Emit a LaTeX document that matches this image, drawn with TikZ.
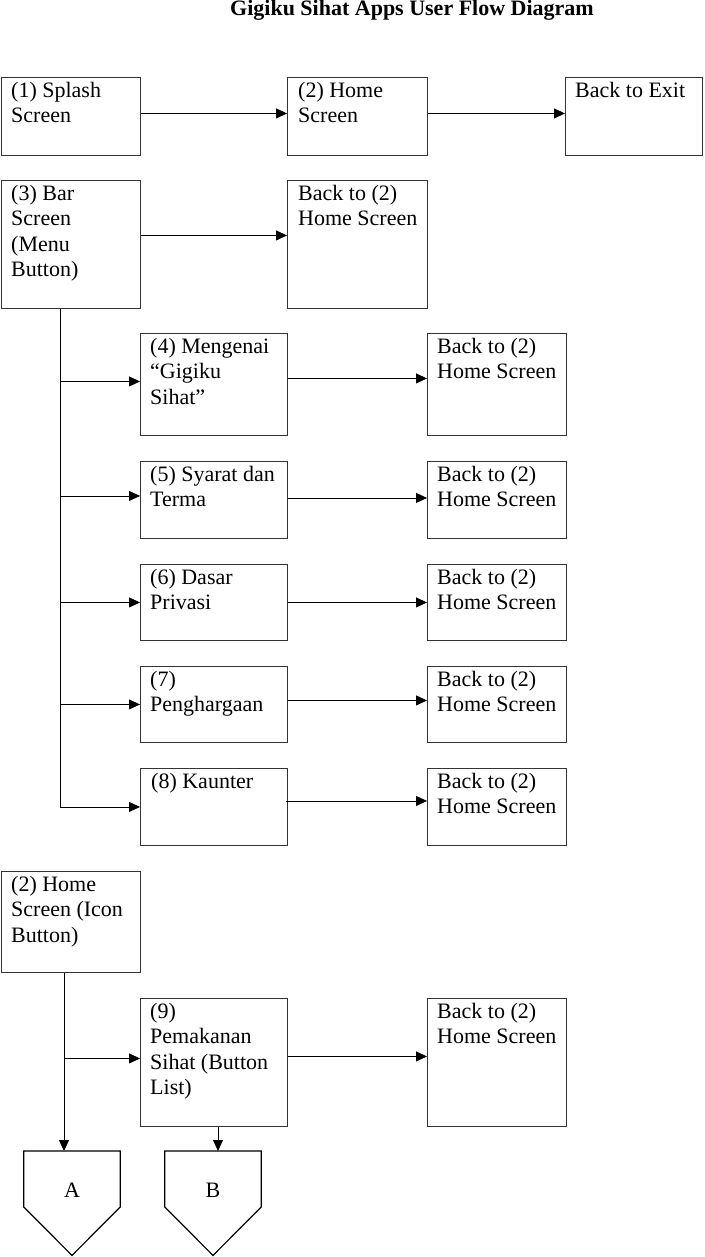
\documentclass[tikz,border=0pt]{standalone}
\usepackage{fontspec}
\setmainfont{Liberation Serif}
\usetikzlibrary{arrows.meta,calc}

\tikzset{
  screen/.style={draw=black!80,line width=0.9pt,anchor=north west,inner sep=0pt},
  txt/.style={anchor=north west,inner sep=0pt,align=left,font=\fontsize{22}{25.3}\selectfont},
  flow/.style={-{Triangle[length=11pt,width=10pt]},line width=0.8pt},
  tag/.style={draw,line width=1.2pt,line join=miter},
  tagbox/.style={minimum width=96pt,minimum height=104pt,inner sep=0pt,anchor=north}
}

\begin{document}
\begin{tikzpicture}[x=1pt,y=-1pt]
  \useasboundingbox (0,0) rectangle (704,1257);
  \node[anchor=base,font=\fontsize{22}{25}\selectfont\bfseries] (title) at (412,16)
    {Gigiku Sihat Apps User Flow Diagram};

  % top rows
  \node[screen,minimum width=139pt,minimum height=78pt] (splash) at (1,77) {};
  \node[txt] (splash-t) at ([shift={(10,5)}]splash.north west) {(1) Splash\\Screen};
  \node[screen,minimum width=140pt,minimum height=78pt] (home) at (287,77) {};
  \node[txt] (home-t) at ([shift={(11,5)}]home.north west) {(2) Home\\Screen};
  \node[screen,minimum width=137pt,minimum height=78pt] (exit) at (565,77) {};
  \node[txt] (exit-t) at ([shift={(10,5)}]exit.north west) {Back to Exit};

  \node[screen,minimum width=139pt,minimum height=128pt] (bar) at (1,180) {};
  \node[txt] (bar-t) at ([shift={(10,5)}]bar.north west) {(3) Bar\\Screen\\(Menu\\Button)};
  \node[screen,minimum width=140pt,minimum height=128pt] (barback) at (287,180) {};
  \node[txt] (barback-t) at ([shift={(11,5)}]barback.north west) {Back to (2)\\Home Screen};

  \draw[flow] ([yshift=3pt]splash.east) -- ([yshift=3pt]home.west);
  \draw[flow] ([yshift=3pt]home.east) -- ([yshift=3pt]exit.west);
  \draw[flow] ([yshift=9pt]bar.east) -- ([yshift=9pt]barback.west);

  % menu items
  \node[screen,minimum width=147pt,minimum height=102pt] (m4) at (140,333) {};
  \node[txt] (m4-t) at ([shift={(10,5)}]m4.north west) {(4) Mengenai\\“Gigiku\\Sihat”};
  \node[screen,minimum width=139pt,minimum height=102pt] (m4back) at (427,333) {};
  \node[txt] (m4back-t) at ([shift={(10,5)}]m4back.north west) {Back to (2)\\Home Screen};

  \node[screen,minimum width=147pt,minimum height=77pt] (m5) at (140,461) {};
  \node[txt] (m5-t) at ([shift={(10,5)}]m5.north west) {(5) Syarat dan\\Terma};
  \node[screen,minimum width=139pt,minimum height=77pt] (m5back) at (427,461) {};
  \node[txt] (m5back-t) at ([shift={(10,5)}]m5back.north west) {Back to (2)\\Home Screen};

  \node[screen,minimum width=147pt,minimum height=76pt] (m6) at (140,564) {};
  \node[txt] (m6-t) at ([shift={(10,5)}]m6.north west) {(6) Dasar\\Privasi};
  \node[screen,minimum width=139pt,minimum height=76pt] (m6back) at (427,564) {};
  \node[txt] (m6back-t) at ([shift={(10,5)}]m6back.north west) {Back to (2)\\Home Screen};

  \node[screen,minimum width=147pt,minimum height=76pt] (m7) at (140,666) {};
  \node[txt] (m7-t) at ([shift={(10,5)}]m7.north west) {(7)\\Penghargaan};
  \node[screen,minimum width=139pt,minimum height=76pt] (m7back) at (427,666) {};
  \node[txt] (m7back-t) at ([shift={(10,5)}]m7back.north west) {Back to (2)\\Home Screen};

  \node[screen,minimum width=147pt,minimum height=77pt] (m8) at (140,768) {};
  \node[txt] (m8-t) at ([shift={(11,5)}]m8.north west) {(8) Kaunter};
  \node[screen,minimum width=139pt,minimum height=77pt] (m8back) at (427,768) {};
  \node[txt] (m8back-t) at ([shift={(10,5)}]m8back.north west) {Back to (2)\\Home Screen};

  \coordinate (trunk1) at (60,0);
  \draw[flow] (bar.south -| trunk1) -- (m8.west -| trunk1) -- (m8.west);
  \draw[flow] ([yshift=3pt]m4.west -| trunk1) -- ([yshift=3pt]m4.west);
  \draw[flow] ([yshift=4pt]m5.west -| trunk1) -- ([yshift=4pt]m5.west);
  \draw[flow] (m6.west -| trunk1) -- (m6.west);
  \draw[flow] (m7.west -| trunk1) -- (m7.west);

  \draw[flow] ([yshift=6pt]m4.east) -- ([yshift=6pt]m4back.west);
  \draw[flow] ([yshift=2pt]m5.east) -- ([yshift=2pt]m5back.west);
  \draw[flow] (m6.east) -- (m6back.west);
  \draw[flow] ([yshift=4pt]m7.east) -- ([yshift=4pt]m7back.west);
  \draw[flow] ([xshift=-2pt,yshift=6pt]m8.east) -- ([yshift=6pt]m8back.west);

  % icon buttons
  \node[screen,minimum width=139pt,minimum height=101pt] (icon) at (1,871) {};
  \node[txt] (icon-t) at ([shift={(10,5)}]icon.north west) {(2) Home\\Screen (Icon\\Button)};
  \node[screen,minimum width=147pt,minimum height=128pt] (m9) at (140,998) {};
  \node[txt] (m9-t) at ([shift={(10,5)}]m9.north west) {(9)\\Pemakanan\\Sihat (Button\\List)};
  \node[screen,minimum width=139pt,minimum height=128pt] (m9back) at (427,998) {};
  \node[txt] (m9back-t) at ([shift={(10,5)}]m9back.north west) {Back to (2)\\Home Screen};

  % off-page connectors
  \node[tagbox] (A) at (72,1151) {};
  \draw[tag] (A.north west) -- (A.north east) -- ++(0,56) -- (A.south)
    -- ($(A.north west)+(0,56)$) -- cycle;
  \node[font=\fontsize{22}{25}\selectfont] (A-t) at ($(A.north)+(0,39)$) {A};
  \node[tagbox] (B) at (213,1151) {};
  \draw[tag] (B.north west) -- (B.north east) -- ++(0,56) -- (B.south)
    -- ($(B.north west)+(0,56)$) -- cycle;
  \node[font=\fontsize{22}{25}\selectfont] (B-t) at ($(B.north)+(0,39)$) {B};

  \coordinate (trunk2) at (64,0);
  \coordinate (bdrop) at (218,0);
  \draw[flow] (icon.south -| trunk2) -- (A.north -| trunk2);
  \draw[flow] ([yshift=4pt]m9.west -| trunk2) -- ([yshift=4pt]m9.west);
  \draw[flow] ([yshift=6pt]m9.east) -- ([yshift=6pt]m9back.west);
  \draw[flow] (m9.south -| bdrop) -- (B.north -| bdrop);
\end{tikzpicture}
\end{document}
